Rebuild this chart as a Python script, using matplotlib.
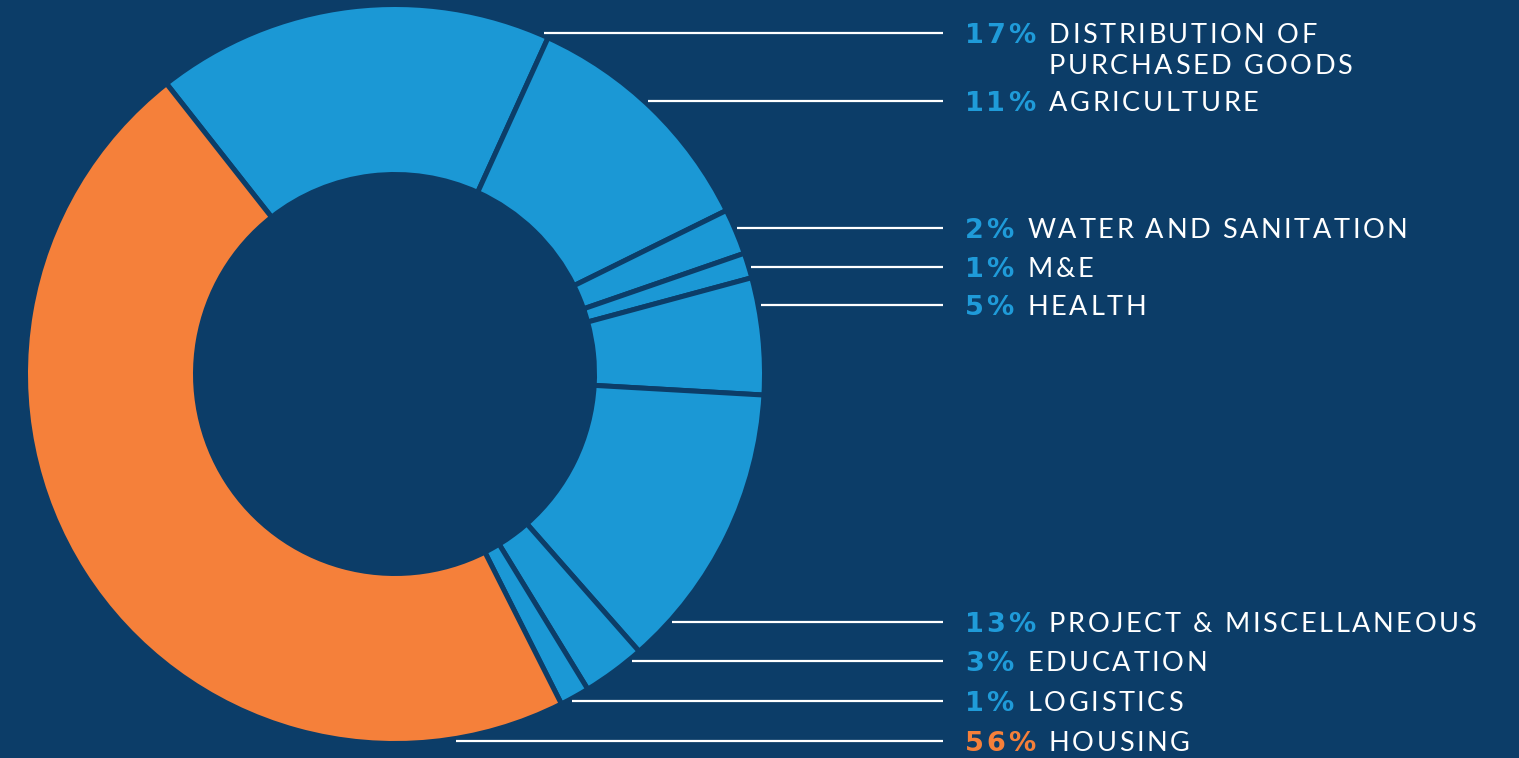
import matplotlib
matplotlib.use("Agg")
import matplotlib.pyplot as plt
from matplotlib import font_manager
from matplotlib.font_manager import FontProperties
from matplotlib.ft2font import FT2Font

# ---- data ----
categories = ["DISTRIBUTION OF\nPURCHASED GOODS", "AGRICULTURE", "WATER AND SANITATION",
              "M&E", "HEALTH", "PROJECT & MISCELLANEOUS", "EDUCATION", "LOGISTICS", "HOUSING"]
pct_labels = ["17%", "11%", "2%", "1%", "5%", "13%", "3%", "1%", "56%"]
# slice sizes as drawn in the picture (percent of the ring)
shares = [17.4, 10.9, 2.0, 1.1, 5.1, 12.6, 2.75, 1.3, 46.8]
is_housing = [False] * 8 + [True]

# ---- style / layout ----
BG = "#0c3d68"
BLUE = "#1b98d5"
ORANGE = "#f5803a"
PCT_BLUE = "#1f9bd9"
W, H = 1519, 758
CX, CY = 395, H - 374
R_OUT, R_IN = 367, 202
EDGE_PX = 5
label_line_y = [33, 101, 228, 267, 305, 622, 661, 701, 741]  # pixel rows of leader lines
LINE_END_X = 943
PCT_X = 965
SIZE = 19.5
PCT_SIZE = 19.5
TRACK_LBL = 2.6
TRACK_PCT = 2.5
GAP = 14

fig = plt.figure(figsize=(W / 100, H / 100), dpi=100, facecolor=BG)
ax = fig.add_axes([0, 0, 1, 1])
ax.set_facecolor(BG)

colors = [ORANGE if h else BLUE for h in is_housing]
edge_pt = EDGE_PX * 72 / 100
ax.pie(shares, colors=colors, startangle=128.2, counterclock=False,
       center=(CX, CY), radius=R_OUT + EDGE_PX / 2,
       wedgeprops=dict(width=(R_OUT - R_IN) + EDGE_PX, edgecolor=BG, linewidth=edge_pt))
ax.set_xlim(0, W)
ax.set_ylim(0, H)
ax.set_aspect("equal")
ax.axis("off")


def advances(text, prop):
    font = FT2Font(font_manager.findfont(prop))
    font.set_size(prop.get_size_in_points(), 100)
    out = []
    for c in text:
        g = font.load_char(ord(c))
        out.append(g.linearHoriAdvance / 65536)
    return out


def tracked(x, y, text, prop, color, track):
    advs = advances(text, prop)
    for c, a in zip(text, advs):
        if c != " ":
            ax.text(x, y, c, fontproperties=prop, color=color, ha="left", va="baseline")
        x += a + track
    return x - track


p_reg = FontProperties(family="Lato", size=SIZE, weight="normal")
p_bold = FontProperties(family="DejaVu Sans", size=PCT_SIZE, weight="bold")

r_line = R_OUT + 5
for cat, pct, housing, ly in zip(categories, pct_labels, is_housing, label_line_y):
    dy = abs(H - ly - CY)
    dx = max(r_line ** 2 - dy ** 2, 0) ** 0.5
    ax.plot([CX + dx, LINE_END_X], [H - ly, H - ly], color="white", lw=1.6,
            solid_capstyle="butt")
    base = H - (ly + 10)
    xe = tracked(PCT_X, base, pct, p_bold, ORANGE if housing else PCT_BLUE, TRACK_PCT)
    lx = xe + GAP
    for i, line in enumerate(cat.split("\n")):
        tracked(lx, base - i * 31, line, p_reg, "white", TRACK_LBL)

fig.savefig("out.png", dpi=100, facecolor=BG)
